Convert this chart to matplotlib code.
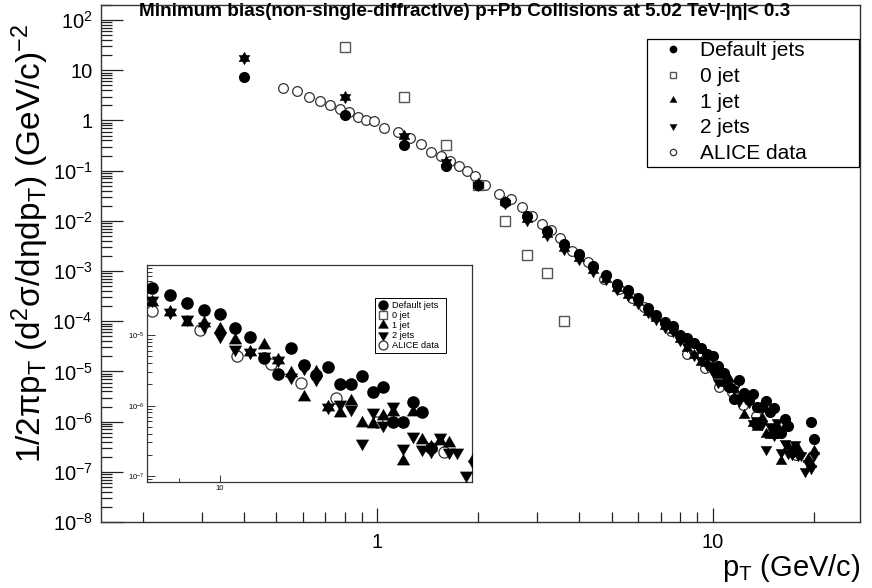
import numpy as np
import matplotlib
matplotlib.use('Agg')
import matplotlib.pyplot as plt
from matplotlib.patches import Rectangle
from matplotlib.ticker import FixedLocator, FixedFormatter, NullFormatter

plt.rcParams['font.family'] = ['Liberation Sans', 'DejaVu Sans']
plt.rcParams['mathtext.fontset'] = 'custom'
plt.rcParams['mathtext.rm'] = 'Liberation Sans'
plt.rcParams['mathtext.it'] = 'Liberation Sans'
plt.rcParams['mathtext.bf'] = 'Liberation Sans:bold'

# ---------------- data ----------------
pt_sim = [0.4, 0.8, 1.2, 1.6, 2.0, 2.4, 2.8, 3.2, 3.6, 4.0,
          4.4, 4.8, 5.2, 5.6, 6.0, 6.4, 6.8, 7.2, 7.6, 8.0,
          8.4, 8.8, 9.2, 9.6, 10.0, 10.4, 10.8, 11.2, 11.6, 12.0,
          12.4, 12.8, 13.2, 13.6, 14.0, 14.4, 14.8, 15.2, 15.6, 16.0,
          16.4, 16.8, 17.2, 17.6, 18.0, 18.4, 18.8, 19.2, 19.6, 20.0]

default_jets = [7.2, 1.26, 0.33, 0.125, 0.052, 0.024, 0.0126, 6.3e-3, 3.4e-3, 2.16e-3,
                1.26e-3, 8.3e-4, 5.4e-4, 4.1e-4, 2.85e-4, 1.85e-4, 1.36e-4, 9.5e-5, 7.9e-5, 5.2e-5,
                4.7e-5, 3.7e-5, 2.9e-5, 2.26e-5, 2.03e-5, 1.27e-5, 9.5e-6, 4.8e-6, 2.8e-6, 6.7e-6,
                3.75e-6, 2.7e-6, 3.56e-6, 2.0e-6, 2.0e-6, 2.6e-6, 1.54e-6, 1.83e-6, 5.9e-7, 5.8e-7,
                1.13e-6, 8.2e-7, 2.5e-7, None, None, None, None, None, 1.0e-6, 4.6e-7]

one_jet = [17.6, 2.9, 0.50, 0.147, 0.054, 0.024, 0.0108, 5.4e-3, 2.9e-3, 1.8e-3,
           1.05e-3, 7.0e-4, 4.6e-4, 3.4e-4, 2.4e-4, 1.55e-4, 1.15e-4, 8.0e-5, 6.6e-5, 4.4e-5,
           2.97e-5, 2.14e-5, 1.55e-5, 1.5e-5, 1.24e-5, 8.5e-6, 5.8e-6, 7.2e-6, 4.5e-6, 2.9e-6,
           1.33e-6, 3.0e-6, 9.6e-7, 7.9e-7, 1.17e-6, 5.6e-7, 5.4e-7, 7.1e-7, 8.2e-7, 1.63e-7,
           8.2e-7, 3.24e-7, 2.6e-7, 3.1e-7, 2.9e-7, None, None, 1.8e-7, 1.4e-7, 2.6e-7]

two_jets = [17.6, 2.9, 0.50, 0.147, 0.052, 0.023, 0.0105, 5.2e-3, 2.8e-3, 1.75e-3,
            1.0e-3, 6.8e-4, 4.4e-4, 3.3e-4, 2.3e-4, 1.5e-4, 1.1e-4, 7.7e-5, 6.3e-5, 4.2e-5,
            3.2e-5, 2.14e-5, 1.7e-5, 1.35e-5, 9.7e-6, 6.3e-6, 5.8e-6, 5.0e-6, 4.5e-6, 2.55e-6,
            3.4e-6, 2.43e-6, 9.6e-7, 1.07e-6, 8.9e-7, 2.9e-7, 8.2e-7, 5.3e-7, 1.0e-6, 2.47e-7,
            3.7e-7, 2.41e-7, 2.3e-7, 3.6e-7, 2.21e-7, 2.21e-7, 1.03e-7, 1.5e-7, 1.2e-7, 2.2e-7]

pt_zero = [0.8, 1.2, 1.6, 2.0, 2.4, 2.8, 3.2, 3.6]
zero_jet = [29.2, 2.92, 0.33, 0.052, 0.010, 2.1e-3, 9.0e-4, 1.0e-4]

pt_alice = [0.525, 0.575, 0.625, 0.675, 0.725, 0.775, 0.825, 0.875, 0.925, 0.975,
            1.05, 1.15, 1.25, 1.35, 1.45, 1.55, 1.65, 1.75, 1.85, 1.95,
            2.1, 2.3, 2.5, 2.7, 2.9, 3.1, 3.3, 3.5, 3.8, 4.25,
            4.75, 5.25, 5.75, 6.25, 6.75, 7.5, 8.4, 9.5, 10.45, 11.4,
            12.33, 13.46, 14.96, 17.76]
alice = [4.43, 3.8, 2.92, 2.4, 2.0, 1.71, 1.47, 1.2, 1.03, 0.955,
         0.70, 0.58, 0.45, 0.34, 0.24, 0.193, 0.158, 0.122, 0.10, 0.077,
         0.052, 0.035, 0.027, 0.0185, 0.0126, 8.8e-3, 6.5e-3, 4.6e-3, 2.5e-3, 1.53e-3,
         6.8e-4, 4.4e-4, 2.9e-4, 1.9e-4, 1.25e-4, 6.5e-5, 2.19e-5, 1.18e-5, 5.0e-6, 3.9e-6,
         2.1e-6, 1.3e-6, 5.8e-7, 2.17e-7]

labels = ['Default jets', '0 jet', '1 jet', '2 jets', 'ALICE data']
title = 'Minimum bias(non-single-diffractive) p+Pb Collisions at 5.02 TeV-|\u03b7|< 0.3'

x_sim = np.array(pt_sim, dtype=float)
y_def = np.array(default_jets, dtype=float)
y_one = np.array(one_jet, dtype=float)
y_two = np.array(two_jets, dtype=float)

# equilateral triangles centred on their centroid (ROOT style)
TRI_UP = [(0, 1), (-0.866, -0.5), (0.866, -0.5), (0, 1)]
TRI_DN = [(0, -1), (-0.866, 0.5), (0.866, 0.5), (0, -1)]

# ---------------- figure ----------------
W, H = 872, 588
fig = plt.figure(figsize=(W / 100, H / 100), dpi=100)
ax = fig.add_axes([101 / W, 1 - 522 / H, (860 - 101) / W, (522 - 5) / H])


def draw(a, ms_scale=1.0):
    a.plot(pt_alice, alice, ls='none', marker='o', ms=7.0 * ms_scale, mfc='white',
           mec='#333333', mew=0.9, zorder=2, label=labels[4])
    a.plot(pt_zero, zero_jet, ls='none', marker='s', ms=6.5 * ms_scale, mfc='white',
           mec='#555555', mew=1.0, zorder=2, label=labels[1])
    a.plot(x_sim, y_one, ls='none', marker=TRI_UP, ms=9.0 * ms_scale, color='black',
           mec='black', mew=0.3, zorder=3, label=labels[2])
    a.plot(x_sim, y_two, ls='none', marker=TRI_DN, ms=9.0 * ms_scale, color='black',
           mec='black', mew=0.3, zorder=3, label=labels[3])
    a.plot(x_sim, y_def, ls='none', marker='o', ms=7.0 * ms_scale, color='black',
           mec='black', zorder=4, label=labels[0])


def box_legend(a, box, anchor, fontsize, markerscale, handlelength, handletextpad,
               labelspacing, borderpad, lw):
    x0, y0, x1, y1 = box
    a.add_patch(Rectangle((x0 / W, 1 - y1 / H), (x1 - x0) / W, (y1 - y0) / H,
                          transform=fig.transFigure, facecolor='white',
                          edgecolor='black', linewidth=lw, zorder=9, clip_on=False))
    h, l = a.get_legend_handles_labels()
    order = [l.index(s) for s in labels]
    lg = a.legend([h[i] for i in order], [l[i] for i in order], loc='upper left',
                  bbox_to_anchor=(anchor[0] / W, 1 - anchor[1] / H),
                  bbox_transform=fig.transFigure,
                  fontsize=fontsize, frameon=False, borderaxespad=0,
                  markerscale=markerscale, handlelength=handlelength,
                  handletextpad=handletextpad, labelspacing=labelspacing,
                  borderpad=borderpad)
    lg.set_zorder(10)
    return lg


draw(ax)
ax.set_xscale('log')
ax.set_yscale('log')
ax.set_xlim(0.15, 27.5)
ax.set_ylim(1e-8, 2.0e2)

ymaj = [10.0 ** k for k in range(-8, 3)]
ylab = ['$10^{-8}$', '$10^{-7}$', '$10^{-6}$', '$10^{-5}$', '$10^{-4}$', '$10^{-3}$',
        '$10^{-2}$', '$10^{-1}$', '1', '10', '$10^{2}$']
ax.yaxis.set_major_locator(FixedLocator(ymaj))
ax.yaxis.set_major_formatter(FixedFormatter(ylab))
ymin = [m * 10.0 ** k for k in range(-8, 3) for m in range(2, 10)]
ax.yaxis.set_minor_locator(FixedLocator(ymin))
ax.yaxis.set_minor_formatter(NullFormatter())

ax.xaxis.set_major_locator(FixedLocator([1, 10]))
ax.xaxis.set_major_formatter(FixedFormatter(['1', '10']))
xmin = [0.2, 0.3, 0.4, 0.5, 0.6, 0.7, 0.8, 0.9, 2, 3, 4, 5, 6, 7, 8, 9, 20]
ax.xaxis.set_minor_locator(FixedLocator(xmin))
ax.xaxis.set_minor_formatter(NullFormatter())

ax.tick_params(axis='both', which='both', direction='in', colors='#222222',
               labelcolor='black', width=0.9)
ax.tick_params(axis='y', which='major', length=16, labelsize=14.5, pad=6)
ax.tick_params(axis='y', which='minor', length=8)
ax.tick_params(axis='x', which='major', length=10, labelsize=14.5, pad=8)
ax.tick_params(axis='x', which='minor', length=7)
for s in ax.spines.values():
    s.set_linewidth(1.0)
    s.set_color('#333333')

fig.text(30 / W, 1 - 243 / H,
         '1/2$\\pi$p$_{T}$ (d$^{2}\\sigma$/d$\\eta$dp$_{T}$) (GeV/c)$^{-2}$',
         rotation=90, ha='center', va='center', fontsize=24)
fig.text(860 / W, 1 - 568 / H, 'p$_{T}$ (GeV/c)', ha='right', va='center', fontsize=21)
fig.text(465 / W, 1 - 12 / H, title, ha='center', va='center', fontsize=13.6,
         fontweight='bold')

box_legend(ax, (647, 39, 859, 167), (647, 32), fontsize=15, markerscale=0.65,
           handlelength=1.6, handletextpad=0.5, labelspacing=0.32, borderpad=0.45, lw=0.9)

# ---------------- inset ----------------
ins = fig.add_axes([147 / W, 1 - 482 / H, (472 - 147) / W, (482 - 265) / H])
draw(ins, ms_scale=1.15)
ins.set_xscale('log')
ins.set_yscale('log')
ins.set_xlim(8.3, 19.1)
ins.set_ylim(8.2e-8, 1.0e-4)
ins.xaxis.set_major_locator(FixedLocator([10]))
ins.xaxis.set_major_formatter(FixedFormatter(['10']))
ins.xaxis.set_minor_locator(FixedLocator([9]))
ins.xaxis.set_minor_formatter(NullFormatter())
ins.yaxis.set_major_locator(FixedLocator([1e-7, 1e-6, 1e-5]))
ins.yaxis.set_major_formatter(FixedFormatter(['$10^{-7}$', '$10^{-6}$', '$10^{-5}$']))
ins.yaxis.set_minor_locator(FixedLocator([m * 10.0 ** k for k in (-8, -7, -6, -5) for m in range(2, 10)]))
ins.yaxis.set_minor_formatter(NullFormatter())
ins.tick_params(axis='both', which='both', direction='in', labelsize=5.5, pad=2,
                colors='#333333', labelcolor='black', width=0.7)
ins.tick_params(axis='y', which='major', length=6)
ins.tick_params(axis='y', which='minor', length=3.5)
ins.tick_params(axis='x', which='major', length=5)
ins.tick_params(axis='x', which='minor', length=3)
for s in ins.spines.values():
    s.set_linewidth(0.9)
    s.set_color('#333333')

box_legend(ins, (375, 298, 446, 353), (375, 298), fontsize=6.6, markerscale=0.8,
           handlelength=1.2, handletextpad=0.4, labelspacing=0.12, borderpad=0.3, lw=0.7)

fig.savefig('out.png', dpi=100)
